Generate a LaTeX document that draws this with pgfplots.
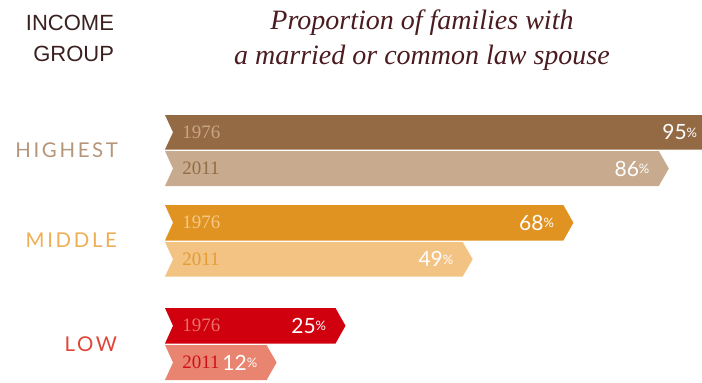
\documentclass[border=0pt]{standalone}
\usepackage{pgfplots}
\pgfplotsset{compat=1.18}
\usepackage{fontspec}
\setmainfont{Liberation Serif}
\newfontfamily\grpfont{Liberation Sans}
\newfontfamily\catfont[LetterSpace=13]{Lato}
\newfontfamily\pctfont{Lato}
\newfontfamily\yearfont{Liberation Serif}
\definecolor{titlec}{HTML}{4B1C1F}
\definecolor{grpc}{HTML}{3B2020}
\definecolor{hA}{HTML}{936A43}
\definecolor{hAt}{HTML}{C9A683}
\definecolor{hB}{HTML}{C8AA8E}
\definecolor{hBt}{HTML}{946C45}
\definecolor{hcat}{HTML}{B5967A}
\definecolor{mA}{HTML}{E19322}
\definecolor{mAt}{HTML}{F5C98A}
\definecolor{mB}{HTML}{F2C383}
\definecolor{mBt}{HTML}{E49C33}
\definecolor{mcat}{HTML}{EEAE55}
\definecolor{lA}{HTML}{D1000E}
\definecolor{lAt}{HTML}{EC726C}
\definecolor{lB}{HTML}{E8846F}
\definecolor{lBt}{HTML}{D0101C}
\definecolor{lcat}{HTML}{E04538}
\newcommand{\pct}[1]{{\pctfont\fontsize{10.5}{12}\selectfont #1\raisebox{1.2pt}{\fontsize{6.5}{7}\selectfont\%}}}
\begin{document}
\begin{tikzpicture}[x=0.5pt,y=-0.5pt]
\useasboundingbox (0,0) rectangle (702,382);
% titles
\node[align=center, font=\itshape\fontsize{14}{17.5}\selectfont, text=titlec] at (422,40.5) {Proportion of families with\\a married or common law spouse};
\node[align=right, anchor=east, font=\grpfont\fontsize{11}{15.5}\selectfont, text=grpc] at (121,38) {INCOME\\GROUP};
% category labels
\node[anchor=east, font=\catfont\fontsize{10.2}{12}\selectfont, text=hcat] at (125,150) {HIGHEST};
\node[anchor=east, font=\catfont\fontsize{10.2}{12}\selectfont, text=mcat] at (124,240.5) {MIDDLE};
\node[anchor=east, font=\catfont\fontsize{10.2}{12}\selectfont, text=lcat] at (124,344) {LOW};
\begin{axis}[
  at={(82.5pt,0pt)}, anchor=north west,
  scale only axis, width=268.5pt, height=191pt,
  xmin=-7.17, xmax=94.15, ymin=0, ymax=382, y dir=reverse,
  axis lines=none, ticks=none, clip=true,
]
% Highest 1976: 95
\addplot[fill=hA, draw=none] coordinates {(-7.17,115) (95,115) (96.89,132.25) (95,149.5) (-7.17,149.5) (-5.66,132.25)} -- cycle;
% Highest 2011: 86
\addplot[fill=hB, draw=none] coordinates {(-7.17,151) (86,151) (87.89,168.5) (86,186) (-7.17,186) (-5.66,168.5)} -- cycle;
% Middle 1976: 68
\addplot[fill=mA, draw=none] coordinates {(-7.17,205) (68,205) (69.89,222.75) (68,240.5) (-7.17,240.5) (-5.66,222.75)} -- cycle;
% Middle 2011: 49
\addplot[fill=mB, draw=none] coordinates {(-7.17,242) (49,242) (50.89,259.25) (49,276.5) (-7.17,276.5) (-5.66,259.25)} -- cycle;
% Low 1976: 25
\addplot[fill=lA, draw=none] coordinates {(-7.17,308) (25,308) (26.89,325.75) (25,343.5) (-7.17,343.5) (-5.66,325.75)} -- cycle;
% Low 2011: 12
\addplot[fill=lB, draw=none] coordinates {(-7.17,345) (12,345) (13.89,362.5) (12,380) (-7.17,380) (-5.66,362.5)} -- cycle;
% value labels
\node[anchor=east, inner sep=0pt, text=white, xshift=-4.5pt] at (axis cs:95,132.25) {\pct{95}};
\node[anchor=east, inner sep=0pt, text=white, xshift=-4.5pt] at (axis cs:86,168.5) {\pct{86}};
\node[anchor=east, inner sep=0pt, text=white, xshift=-4.5pt] at (axis cs:68,222.75) {\pct{68}};
\node[anchor=east, inner sep=0pt, text=white, xshift=-4.5pt] at (axis cs:49,259.25) {\pct{49}};
\node[anchor=east, inner sep=0pt, text=white, xshift=-4.5pt] at (axis cs:25,325.75) {\pct{25}};
\node[anchor=east, inner sep=0pt, text=white, xshift=-4.5pt] at (axis cs:12,362.5) {\pct{12}};
\end{axis}
% year labels
\node[anchor=west, inner sep=0pt, font=\yearfont\fontsize{9.5}{12}\selectfont, text=hAt] at (182,132.25) {1976};
\node[anchor=west, inner sep=0pt, font=\yearfont\fontsize{9.5}{12}\selectfont, text=hBt] at (182,168.5) {2011};
\node[anchor=west, inner sep=0pt, font=\yearfont\fontsize{9.5}{12}\selectfont, text=mAt] at (182,222.75) {1976};
\node[anchor=west, inner sep=0pt, font=\yearfont\fontsize{9.5}{12}\selectfont, text=mBt] at (182,259.25) {2011};
\node[anchor=west, inner sep=0pt, font=\yearfont\fontsize{9.5}{12}\selectfont, text=lAt] at (182,325.75) {1976};
\node[anchor=west, inner sep=0pt, font=\yearfont\fontsize{9.5}{12}\selectfont, text=lBt] at (182,362.5) {2011};
\end{tikzpicture}
\end{document}
